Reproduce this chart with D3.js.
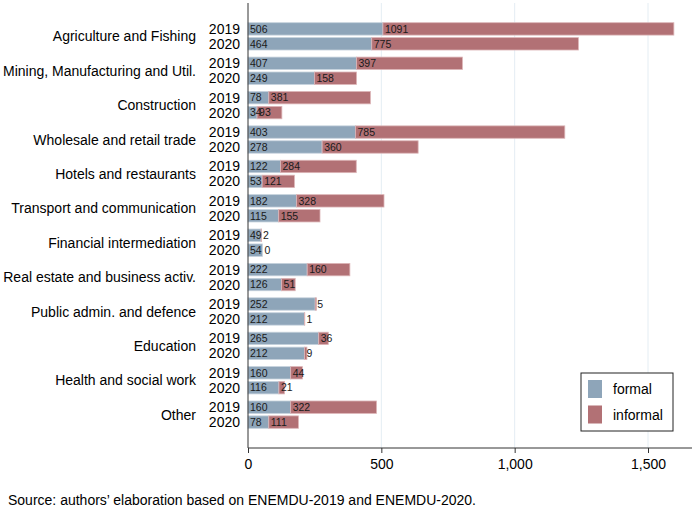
<!DOCTYPE html>
<html>
<head>
<meta charset="utf-8">
<script src="https://cdn.jsdelivr.net/npm/d3@7"></script>
<style>
  body { margin: 0; background: #fff; }
  svg { display: block; font-family: "Liberation Sans", Arial, sans-serif; }
</style>
</head>
<body>
<svg id="chart" width="693" height="517"></svg>
<script>
const categories = [
    'Agriculture and Fishing', 'Mining, Manufacturing and Util.', 'Construction',
    'Wholesale and retail trade', 'Hotels and restaurants', 'Transport and communication',
    'Financial intermediation', 'Real estate and business activ.', 'Public admin. and defence',
    'Education', 'Health and social work', 'Other'
];
const years = ['2019', '2020'];
const formal2019 = [506, 407, 78, 403, 122, 182, 49, 222, 252, 265, 160, 160];
const informal2019 = [1091, 397, 381, 785, 284, 328, 2, 160, 5, 36, 44, 322];
const formal2020 = [464, 249, 34, 278, 53, 115, 54, 126, 212, 212, 116, 78];
const informal2020 = [775, 158, 93, 360, 121, 155, 0, 51, 1, 9, 21, 111];
const xTicks = [0, 500, 1000, 1500];

const colors = { formal: '#8ea5b9', informal: '#b27175' };
const strokes = { formal: '#c5d1dc', informal: '#dcb5b7' };

const rows = categories.flatMap((cat, i) => [
    { cat, year: '2019', formal: formal2019[i], informal: informal2019[i] },
    { cat, year: '2020', formal: formal2020[i], informal: informal2020[i] }
]);

const svg = d3.select('#chart');
const plotLeft = 248, plotRight = 692, plotTop = 3, plotBottom = 448;

const x = d3.scaleLinear().domain([0, 1665]).range([plotLeft, plotRight]);
const yCat = d3.scaleBand().domain(categories).range([plotTop, plotBottom])
    .paddingInner(0.206).paddingOuter(0.573);
const yYear = d3.scaleBand().domain(years).range([0, yCat.bandwidth()]).paddingInner(0.17);
const rowY = d => yCat(d.cat) + yYear(d.year);
const rowMid = d => rowY(d) + yYear.bandwidth() / 2;

// gridlines
svg.append('g')
    .selectAll('line')
    .data(xTicks.slice(1))
    .enter()
    .append('line')
    .attr('x1', d => x(d)).attr('x2', d => x(d))
    .attr('y1', plotTop).attr('y2', plotBottom)
    .attr('stroke', '#e4edf3').attr('stroke-width', 1);

// bars
const bars = svg.append('g')
    .selectAll('g')
    .data(rows)
    .enter()
    .append('g');

bars.append('rect')
    .attr('x', x(0))
    .attr('y', rowY)
    .attr('width', d => x(d.formal) - x(0))
    .attr('height', yYear.bandwidth())
    .attr('fill', colors.formal)
    .attr('stroke', strokes.formal).attr('stroke-width', 0.8);

bars.append('rect')
    .attr('x', d => x(d.formal))
    .attr('y', rowY)
    .attr('width', d => x(d.formal + d.informal) - x(d.formal))
    .attr('height', yYear.bandwidth())
    .attr('fill', colors.informal)
    .attr('stroke', strokes.informal).attr('stroke-width', 0.8);

bars.append('text')
    .attr('x', x(0) + 2)
    .attr('y', rowMid)
    .attr('dy', '0.36em')
    .attr('font-size', 10.5)
    .attr('fill', '#1a1a1a')
    .text(d => d.formal);

bars.append('text')
    .attr('x', d => x(d.formal) + 2)
    .attr('y', rowMid)
    .attr('dy', '0.36em')
    .attr('font-size', 10.5)
    .attr('fill', '#1a1a1a')
    .text(d => d.informal);

// year labels
bars.append('text')
    .attr('x', 240)
    .attr('y', rowMid)
    .attr('dy', '0.36em')
    .attr('text-anchor', 'end')
    .attr('font-size', 14)
    .attr('fill', '#000')
    .text(d => d.year);

// category labels
svg.append('g')
    .selectAll('text')
    .data(categories)
    .enter()
    .append('text')
    .attr('x', 196)
    .attr('y', d => yCat(d) + yCat.bandwidth() / 2)
    .attr('dy', '0.36em')
    .attr('text-anchor', 'end')
    .attr('font-size', 14)
    .attr('fill', '#000')
    .text(d => d);

// axes
const xAxis = svg.append('g')
    .attr('transform', `translate(0,${plotBottom})`)
    .call(d3.axisBottom(x).tickValues(xTicks).tickFormat(d3.format(',')).tickSize(5).tickPadding(6));
xAxis.select('.domain').attr('d', `M${plotLeft},0H${plotRight}`).attr('stroke', '#333');
xAxis.selectAll('.tick line').attr('stroke', '#333');
xAxis.selectAll('.tick text').attr('font-size', 14).attr('fill', '#000')
    .attr('font-family', '"Liberation Sans", Arial, sans-serif');

svg.append('line')
    .attr('x1', x(0)).attr('x2', x(0))
    .attr('y1', plotTop).attr('y2', plotBottom)
    .attr('stroke', '#333');

// legend
const legend = svg.append('g').attr('transform', 'translate(581,373)');
legend.append('rect')
    .attr('width', 92).attr('height', 58)
    .attr('fill', '#fff').attr('stroke', '#222');
const legendItems = legend.selectAll('g')
    .data(['formal', 'informal'])
    .enter()
    .append('g')
    .attr('transform', (d, i) => `translate(7,${7 + i * 25.5})`);
legendItems.append('rect')
    .attr('width', 14).attr('height', 18)
    .attr('fill', d => colors[d]);
legendItems.append('text')
    .attr('x', 25).attr('y', 9)
    .attr('dy', '0.36em')
    .attr('font-size', 14)
    .text(d => d);

// source note
svg.append('text')
    .attr('x', 8).attr('y', 505)
    .attr('font-size', 14)
    .text('Source: authors\u2019 elaboration based on ENEMDU-2019 and ENEMDU-2020.');
</script>
</body>
</html>
